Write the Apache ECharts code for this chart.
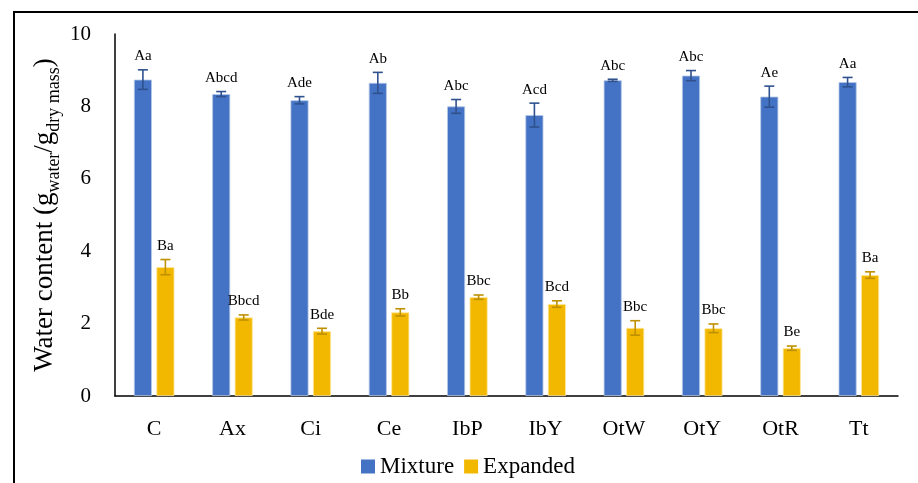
<!DOCTYPE html>
<html>
<head>
<meta charset="utf-8">
<script src="https://cdn.jsdelivr.net/npm/echarts@6/dist/echarts.min.js"></script>
<style>
    html, body { margin: 0; padding: 0; background: #fff; }
    #chart { width: 918px; height: 483px; }
</style>
</head>
<body>
<div id="chart"></div>
<script>
const categories = ['C', 'Ax', 'Ci', 'Ce', 'IbP', 'IbY', 'OtW', 'OtY', 'OtR', 'Tt']
const mixture = [8.74, 8.34, 8.17, 8.65, 8.0, 7.76, 8.72, 8.85, 8.27, 8.67]
const mixtureErr = [0.27, 0.07, 0.1, 0.29, 0.19, 0.33, 0.03, 0.14, 0.29, 0.13]
const mixtureLetters = ['Aa', 'Abcd', 'Ade', 'Ab', 'Abc', 'Acd', 'Abc', 'Abc', 'Ae', 'Aa']
const expanded = [3.56, 2.17, 1.79, 2.31, 2.73, 2.54, 1.88, 1.87, 1.32, 3.34]
const expandedErr = [0.21, 0.07, 0.08, 0.1, 0.06, 0.09, 0.2, 0.12, 0.06, 0.09]
const expandedLetters = ['Ba', 'Bbcd', 'Bde', 'Bb', 'Bbc', 'Bcd', 'Bbc', 'Bbc', 'Be', 'Ba']

const serif = '"Liberation Serif", "DejaVu Serif", serif'
const barW = 18
const gapPx = 4.5

// error bar + letter label, drawn next to its bar
function errorSeries(name, values, errs, letters, color, side) {
    return {
        name: name + 'Err',
        type: 'custom',
        z: 5,
        data: values.map((v, i) => [i, v, errs[i], letters[i]]),
        renderItem: function(params, api) {
            const off = side * (barW + gapPx) / 2
            const top = api.coord([api.value(0), api.value(1) + api.value(2)])
            const bot = api.coord([api.value(0), api.value(1) - api.value(2)])
            const x = top[0] + off
            const cap = 5
            const st = { stroke: color, lineWidth: 1.6 }
            return {
                type: 'group',
                children: [
                    { type: 'line', shape: { x1: x, y1: top[1], x2: x, y2: bot[1] }, style: st },
                    { type: 'line', shape: { x1: x - cap, y1: top[1], x2: x + cap, y2: top[1] }, style: st },
                    { type: 'line', shape: { x1: x - cap, y1: bot[1], x2: x + cap, y2: bot[1] }, style: st },
                    {
                        type: 'text',
                        style: {
                            x: x,
                            y: top[1] - 6,
                            text: api.value(3),
                            fill: '#000',
                            font: '15px ' + serif,
                            align: 'center',
                            verticalAlign: 'bottom'
                        }
                    }
                ]
            }
        }
    }
}

let option = {
    animation: false,
    backgroundColor: '#fff',
    graphic: [
        {
            type: 'rect',
            shape: { x: 14, y: 12, width: 1000, height: 1000 },
            style: { fill: 'none', stroke: '#000', lineWidth: 2 },
            silent: true
        }
    ],
    legend: {
        left: 356,
        top: 450,
        icon: 'rect',
        itemWidth: 14,
        itemHeight: 14,
        itemGap: 10,
        data: ['Mixture', 'Expanded'],
        itemStyle: { borderWidth: 0 },
        textStyle: { fontFamily: serif, fontSize: 23, color: '#000' }
    },
    grid: {
        left: 115,
        right: 20,
        top: 34,
        bottom: 87
    },
    xAxis: {
        type: 'category',
        data: categories,
        axisTick: { show: false },
        axisLine: { lineStyle: { color: '#000', width: 1.5 } },
        axisLabel: { color: '#000', fontFamily: serif, fontSize: 22, margin: 22 }
    },
    yAxis: {
        type: 'value',
        min: 0,
        max: 10,
        interval: 2,
        splitLine: { show: false },
        axisTick: { show: false },
        axisLine: { show: true, lineStyle: { color: '#000', width: 1.5 } },
        axisLabel: { color: '#000', fontFamily: serif, fontSize: 21, margin: 24 },
        name: '{a|Water content (g}{s|water}{a|/g}{s|dry mass}{a|)}',
        nameLocation: 'middle',
        nameRotate: 90,
        nameGap: 52,
        nameMoveOverlap: false,
        nameTextStyle: {
            rich: {
                a: { fontFamily: serif, fontSize: 27, color: '#000', lineHeight: 36, verticalAlign: 'middle' },
                s: { fontFamily: serif, fontSize: 18, color: '#000', lineHeight: 36, verticalAlign: 'bottom' }
            }
        }
    },
    series: [
        {
            name: 'Mixture',
            type: 'bar',
            data: mixture,
            barWidth: barW,
            barGap: '25%',
            itemStyle: { color: '#4472C4', borderColor: '#B4C7E7', borderWidth: 0.8 }
        },
        {
            name: 'Expanded',
            type: 'bar',
            data: expanded,
            barWidth: barW,
            itemStyle: { color: '#F2B800', borderColor: '#FFE699', borderWidth: 0.8 }
        },
        errorSeries('Mixture', mixture, mixtureErr, mixtureLetters, '#2F528F', -1),
        errorSeries('Expanded', expanded, expandedErr, expandedLetters, '#BF9000', 1)
    ]
}

var myChart = echarts.init(document.getElementById('chart'))
myChart.setOption(option)
</script>
</body>
</html>
